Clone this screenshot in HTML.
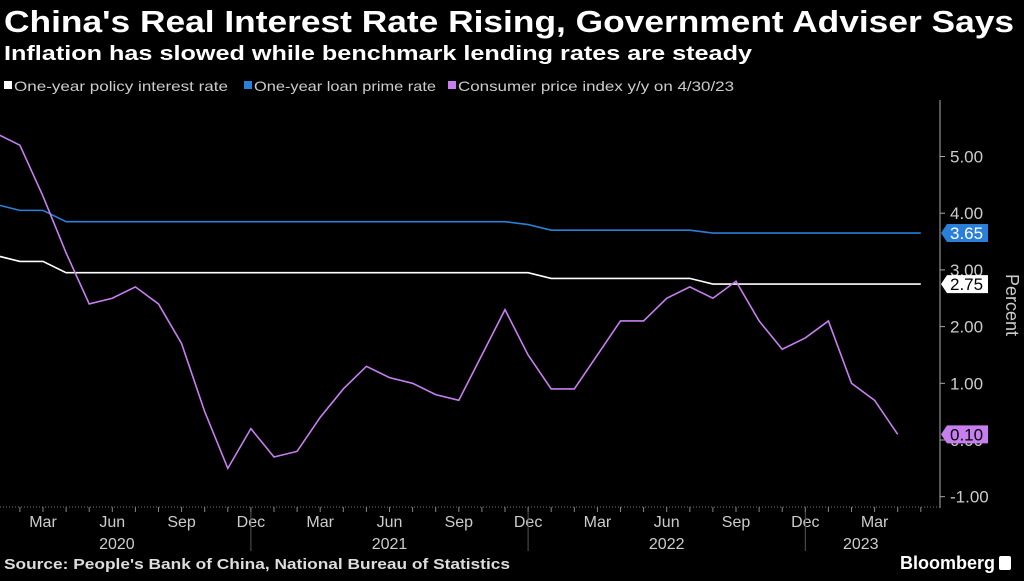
<!DOCTYPE html>
<html><head><meta charset="utf-8"><style>
html,body{margin:0;padding:0;background:#000;}
body{width:1024px;height:576px;overflow:hidden;font-family:"Liberation Sans",sans-serif;}
svg text{font-family:"Liberation Sans Narrow","Liberation Sans",sans-serif;}
</style></head><body>
<svg id="chart" width="1024" height="576" viewBox="0 0 1024 576" xmlns="http://www.w3.org/2000/svg">
<rect width="1024" height="576" fill="#000"/>
<text x="4" y="32" fill="#fff" font-size="31" font-weight="bold" textLength="1010" lengthAdjust="spacingAndGlyphs">China's Real Interest Rate Rising, Government Adviser Says</text>
<text x="4" y="60" fill="#fff" font-size="20" font-weight="bold" textLength="748" lengthAdjust="spacingAndGlyphs">Inflation has slowed while benchmark lending rates are steady</text>
<g font-size="14" fill="#ccc">
<rect x="4" y="81" width="8" height="8" fill="#fff"/>
<text x="14" y="91" textLength="214" lengthAdjust="spacingAndGlyphs">One-year policy interest rate</text>
<rect x="244" y="81" width="8" height="8" fill="#2a7fd8"/>
<text x="254" y="91" textLength="182" lengthAdjust="spacingAndGlyphs">One-year loan prime rate</text>
<rect x="448" y="81" width="8" height="8" fill="#c77ff0"/>
<text x="458" y="91" textLength="276" lengthAdjust="spacingAndGlyphs">Consumer price index y/y on 4/30/23</text>
</g>
<line x1="940" y1="100" x2="940" y2="508" stroke="#aaa" stroke-width="1"/>
<line x1="0" y1="507" x2="940" y2="507" stroke="#777" stroke-dasharray="1,2"/>
<g id="yticks"></g><g id="xticks"></g><g id="series"></g><g id="badges"></g>
<text transform="translate(1006,305) rotate(90)" fill="#ccc" font-size="18" text-anchor="middle">Percent</text>
<text x="4" y="569" fill="#ddd" font-size="15" font-weight="bold" textLength="506" lengthAdjust="spacingAndGlyphs">Source: People's Bank of China, National Bureau of Statistics</text>
<text x="995" y="569" fill="#fff" font-size="18" font-weight="bold" text-anchor="end">Bloomberg</text>
<rect x="999" y="556" width="12" height="14" rx="2" fill="#fff"/>
</svg>
<script>
const cpi=[5.4,5.2,4.3,3.3,2.4,2.5,2.7,2.4,1.7,0.5,-0.5,0.2,-0.3,-0.2,0.4,0.9,1.3,1.1,1.0,0.8,0.7,1.5,2.3,1.5,0.9,0.9,1.5,2.1,2.1,2.5,2.7,2.5,2.8,2.1,1.6,1.8,2.1,1.0,0.7,0.1];
const lpr=[4.15,4.05,4.05,3.85,3.85,3.85,3.85,3.85,3.85,3.85,3.85,3.85,3.85,3.85,3.85,3.85,3.85,3.85,3.85,3.85,3.85,3.85,3.85,3.80,3.70,3.70,3.70,3.70,3.70,3.70,3.70,3.65,3.65,3.65,3.65,3.65,3.65,3.65,3.65,3.65,3.65];
const policy=[3.25,3.15,3.15,2.95,2.95,2.95,2.95,2.95,2.95,2.95,2.95,2.95,2.95,2.95,2.95,2.95,2.95,2.95,2.95,2.95,2.95,2.95,2.95,2.95,2.85,2.85,2.85,2.85,2.85,2.85,2.85,2.75,2.75,2.75,2.75,2.75,2.75,2.75,2.75,2.75,2.75];
const yTicks=[5,4,3,2,1,0,-1];
const monthLabels=["Mar","Jun","Sep","Dec","Mar","Jun","Sep","Dec","Mar","Jun","Sep","Dec","Mar"];
const monthIdx=[2,5,8,11,14,17,20,23,26,29,32,35,38];
const years=["2020","2021","2022","2023"];
const yearIdx=[5.2,17,29,37.4];
const NS="http://www.w3.org/2000/svg";
const X=m=>43+(m-2)*23.1;
const Y=v=>440-v*56.7;
function mk(tag,attrs,parent){const e=document.createElementNS(NS,tag);for(const k in attrs)e.setAttribute(k,attrs[k]);parent.appendChild(e);return e;}
const yt=document.getElementById('yticks');
yTicks.forEach(v=>{
  const l=mk('line',{x1:940,x2:945,y1:Y(v),y2:Y(v),stroke:'#aaa'},yt);
  
  
  const t=mk('text',{x:950,y:Y(v)+6,fill:'#ccc','font-size':17},yt);
  
  
  t.textContent=v.toFixed(2);
});
const xt=document.getElementById('xticks');
for(let m=0;m<=40;m++){
  const l=mk('line',{x1:X(m),x2:X(m),y1:507,y2:512,stroke:'#888'},xt);
  
  
}
monthLabels.forEach((s,i)=>{
  const t=mk('text',{x:X(monthIdx[i]),y:527,fill:'#ccc','font-size':16,'text-anchor':'middle'},xt);
  
  
  t.textContent=s;
});
years.forEach((s,i)=>{
  const t=mk('text',{x:X(yearIdx[i]),y:549,fill:'#ccc','font-size':16,'text-anchor':'middle'},xt);
  
  
  t.textContent=s;
  if(i>0){const d=mk('line',{x1:X(i*12-1),x2:X(i*12-1),y1:512,y2:551,stroke:'#555'},xt);
  
  }
});
const sg=document.getElementById('series');
function line(arr,color,name){
  const p=mk('polyline',{points:arr.map((v,i)=>X(i)+','+Y(v)).join(' '),fill:'none',stroke:color,'stroke-width':1.6},sg);
  
  
}
line(policy,'#ffffff','policy-rate-line');
line(lpr,'#2a7fd8','loan-prime-rate-line');
line(cpi,'#c77ff0','cpi-line');
const bg=document.getElementById('badges');
[[lpr[lpr.length-1],'#2a7fd8','#fff','lpr-badge'],[policy[policy.length-1],'#fff','#000','policy-badge'],[cpi[cpi.length-1],'#c77ff0','#000','cpi-badge']].forEach(([v,bgc,fg,n])=>{
  const y=Y(v);
  const p=mk('path',{d:`M941 ${y} L947 ${y-9} L988 ${y-9} L988 ${y+9} L947 ${y+9} Z`,fill:bgc},bg);
  
  
  const t=mk('text',{x:950,y:y+6,fill:fg,'font-size':17},bg);
  
  
  t.textContent=v.toFixed(2);
});
</script>
</body></html>
